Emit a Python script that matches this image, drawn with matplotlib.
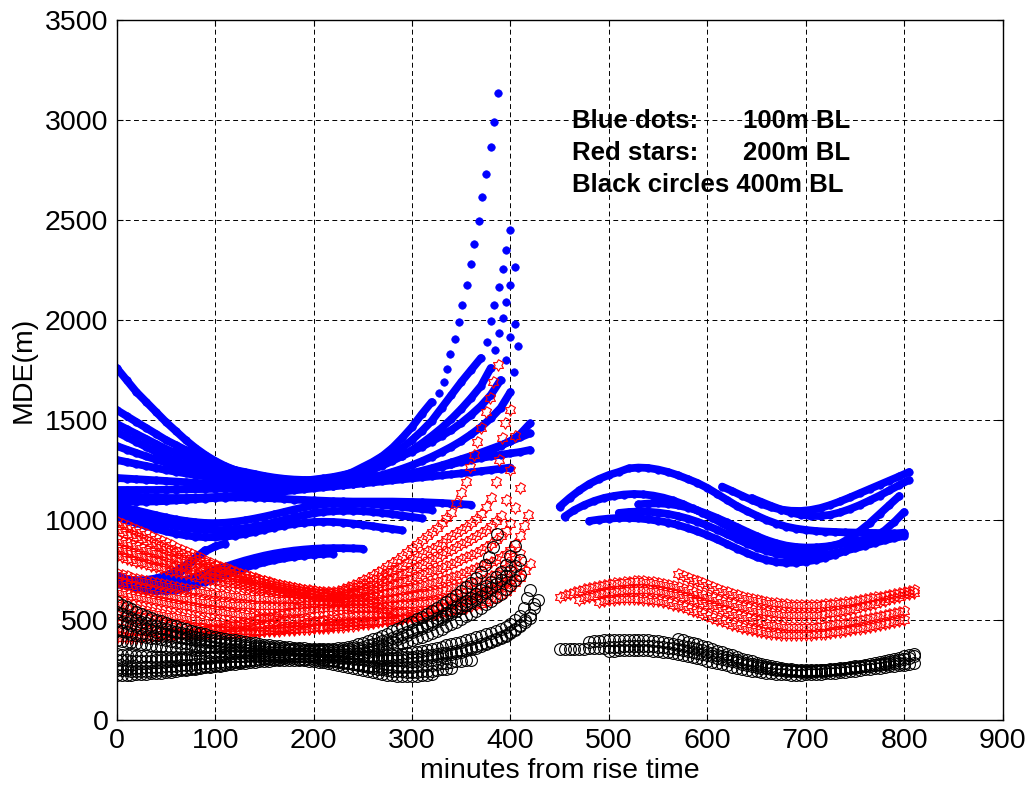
import numpy as np
import matplotlib.pyplot as plt
from matplotlib.path import Path

plt.rcParams['font.family'] = ['Liberation Sans', 'DejaVu Sans']

# Each track: (first minute, MDE samples, extra (minute, MDE) points near the end)
# blue tracks are sampled every 10 min, red and black ones every 5 min
blue_step = 10
red_step = 5
black_step = 5

# first pass, 100 m baseline
blue_pass1 = [
    (0, [1760, 1700, 1640, 1590, 1540, 1490, 1445, 1400, 1360, 1325, 1295, 1270, 1250, 1235, 1220, 1210, 1200,
         1195, 1190, 1190, 1190, 1195, 1205, 1220, 1240, 1265, 1290, 1320, 1360, 1410, 1465, 1530, 1590],
     [(327, 1633), (332, 1688), (336, 1755), (339, 1830), (344, 1905), (348, 1988), (351, 2075), (356, 2173),
      (360, 2278), (363, 2382), (368, 2493), (371, 2613), (375, 2732), (380, 2865), (383, 2992), (387, 3135)]),
    (0, [1550, 1520, 1490, 1460, 1430, 1400, 1375, 1350, 1325, 1300, 1280, 1265, 1250, 1240, 1230, 1220, 1212,
         1206, 1202, 1200, 1200, 1203, 1208, 1218, 1230, 1248, 1270, 1295, 1325, 1360, 1400, 1445, 1495, 1560,
         1625, 1690, 1750, 1810],
     [(376, 1890), (380, 1997), (383, 2075), (388, 2165), (392, 2255), (395, 2352), (400, 2448)]),
    (0, [1480, 1455, 1430, 1405, 1380, 1355, 1335, 1315, 1295, 1275, 1260, 1245, 1230, 1218, 1207, 1198, 1190,
         1185, 1182, 1182, 1185, 1190, 1198, 1208, 1220, 1235, 1252, 1272, 1295, 1320, 1350, 1383, 1420, 1460,
         1505, 1555, 1610, 1670, 1760],
     [(384, 1850), (388, 1937), (392, 2010), (395, 2092), (400, 2173), (405, 2263)]),
    (0, [1440, 1415, 1390, 1365, 1340, 1318, 1297, 1278, 1260, 1245, 1232, 1220, 1210, 1202, 1196, 1192, 1190,
         1190, 1192, 1196, 1202, 1208, 1215, 1225, 1237, 1250, 1265, 1282, 1300, 1320, 1342, 1366, 1392, 1420,
         1450, 1485, 1525, 1570, 1625, 1700],
     [(395, 1800), (400, 1913), (405, 1980)]),
    (0, [1370, 1352, 1335, 1318, 1302, 1287, 1273, 1260, 1248, 1237, 1227, 1218, 1210, 1203, 1197, 1192, 1188,
         1185, 1183, 1182, 1182, 1183, 1186, 1190, 1196, 1204, 1214, 1226, 1240, 1256, 1274, 1294, 1316, 1340,
         1366, 1395, 1428, 1465, 1508, 1560, 1640],
     [(404, 1740), (408, 1868)]),
    (0, [1300, 1290, 1280, 1270, 1260, 1250, 1241, 1233, 1225, 1218, 1212, 1206, 1200, 1195, 1190, 1186, 1183,
         1180, 1178, 1177, 1177, 1178, 1180, 1183, 1187, 1192, 1198, 1205, 1213, 1222, 1232, 1243, 1255, 1268,
         1282, 1297, 1313, 1330, 1348, 1370, 1395, 1430, 1483], []),
    (0, [1210, 1207, 1204, 1201, 1198, 1195, 1192, 1189, 1186, 1183, 1180, 1178, 1176, 1174, 1172, 1170, 1169,
         1168, 1168, 1168, 1169, 1171, 1174, 1178, 1183, 1189, 1196, 1204, 1213, 1223, 1234, 1246, 1259, 1273,
         1288, 1304, 1320, 1337, 1355, 1373, 1393, 1413, 1433], []),
    (0, [1150, 1150, 1150, 1150, 1150, 1151, 1152, 1153, 1154, 1155, 1156, 1157, 1158, 1159, 1160, 1161, 1162,
         1163, 1164, 1165, 1166, 1168, 1171, 1175, 1180, 1186, 1193, 1201, 1210, 1220, 1231, 1242, 1254, 1266,
         1278, 1290, 1300, 1310, 1318, 1326, 1333, 1340, 1350], []),
    (0, [1120, 1118, 1116, 1114, 1112, 1110, 1110, 1110, 1111, 1113, 1115, 1118, 1121, 1125, 1129, 1133, 1138,
         1143, 1148, 1153, 1158, 1163, 1168, 1173, 1178, 1183, 1188, 1193, 1198, 1203, 1208, 1213, 1218, 1223,
         1228, 1233, 1238, 1244, 1250, 1256, 1262], []),
    (0, [1095, 1093, 1092, 1092, 1093, 1095, 1098, 1101, 1104, 1107, 1110, 1112, 1113, 1113, 1112, 1110, 1108,
         1105, 1102, 1100, 1098, 1096, 1094, 1093, 1092, 1092, 1092, 1092, 1092, 1091, 1090, 1089, 1087, 1085,
         1082, 1079, 1076], []),
    (0, [1070, 1060, 1048, 1036, 1024, 1013, 1003, 995, 989, 985, 984, 986, 991, 998, 1007, 1017, 1028, 1040,
         1052, 1063, 1072, 1078, 1082, 1084, 1084, 1082, 1079, 1075, 1070, 1065, 1060, 1055, 1050], []),
    (0, [1040, 1028, 1015, 1002, 990, 979, 969, 961, 955, 951, 949, 950, 953, 959, 967, 977, 989, 1001, 1013,
         1024, 1033, 1040, 1044, 1046, 1046, 1044, 1040, 1035, 1029, 1022, 1015, 1008], []),
    (0, [1015, 1000, 985, 970, 956, 943, 932, 923, 917, 914, 914, 917, 922, 930, 940, 951, 962, 972, 980, 986,
         990, 991, 990, 987, 982, 976, 969, 962, 955, 948], []),
    (0, [720, 705, 693, 685, 682, 684, 691, 702, 716, 732, 749, 766, 782, 797, 810, 822, 832, 840, 847, 852,
         856, 858, 859, 859, 858, 856], []),
    (0, [690, 675, 662, 652, 646, 646, 652, 662, 676, 692, 710, 728, 745, 761, 775, 788, 799, 808, 816, 822,
         827, 830, 832], []),
    (0, [705, 700, 698, 700, 708, 722, 745, 775, 810, 843, 868, 882], []),
    (0, [680, 670, 664, 664, 672, 690, 718, 760, 810, 850], []),
]

# first pass, 200 m baseline
red_pass1 = [
    (0, [990, 980, 970, 960, 950, 939, 928, 917, 906, 895, 884, 873, 862, 851, 840, 829, 818, 808, 797, 787,
         777, 767, 758, 749, 740, 731, 723, 715, 708, 701, 694, 688, 682, 676, 671, 666, 661, 656, 652, 648,
         645, 642, 640, 639, 640, 647, 655, 665, 675, 687, 700, 712, 725, 738, 752, 768, 785, 802, 820, 839,
         858, 878, 898, 919, 940, 962, 985, 1010, 1035],
     [(345, 1083), (350, 1133), (355, 1192), (359, 1267), (363, 1325), (366, 1390), (370, 1460), (375, 1542),
      (379, 1608), (382, 1692), (387, 1775)]),
    (0, [950, 941, 932, 923, 913, 904, 894, 885, 875, 866, 856, 847, 838, 829, 820, 811, 802, 794, 785, 777,
         768, 760, 751, 743, 735, 728, 720, 713, 706, 700, 693, 687, 681, 676, 670, 665, 660, 656, 651, 647,
         643, 640, 636, 633, 630, 636, 645, 653, 662, 671, 680, 690, 700, 711, 722, 734, 746, 759, 772, 786,
         800, 814, 828, 843, 857, 872, 887, 903, 918, 934, 950, 967, 985, 1005, 1030, 1065, 1110],
     [(385, 1190), (388, 1300), (391, 1408), (394, 1483), (400, 1550)]),
    (0, [900, 892, 884, 876, 868, 860, 852, 844, 836, 828, 820, 812, 804, 796, 789, 781, 774, 766, 759, 752,
         745, 738, 731, 724, 718, 711, 705, 699, 693, 687, 681, 675, 670, 665, 660, 655, 650, 645, 641, 637,
         633, 629, 626, 623, 620, 623, 628, 634, 640, 647, 655, 663, 672, 681, 690, 700, 710, 720, 731, 742,
         753, 764, 776, 788, 800, 812, 825, 838, 851, 864, 878, 892, 906, 921, 936, 952, 970, 993, 1020],
     [(395, 1100), (400, 1250), (405, 1420)]),
    (0, [860, 852, 845, 837, 830, 822, 815, 807, 800, 793, 786, 779, 772, 765, 758, 751, 745, 738, 732, 726,
         720, 714, 708, 702, 697, 691, 686, 681, 676, 671, 667, 662, 658, 654, 650, 646, 642, 638, 635, 631,
         628, 625, 622, 619, 616, 617, 620, 624, 628, 633, 638, 644, 650, 656, 663, 670, 677, 684, 692, 700,
         708, 716, 725, 734, 743, 752, 762, 772, 782, 792, 803, 814, 825, 837, 850, 864, 880, 898, 920, 947,
         980],
     [(405, 1060), (410, 1160)]),
    (0, [820, 813, 806, 799, 792, 785, 779, 772, 766, 759, 753, 747, 741, 735, 729, 723, 718, 712, 707, 702,
         697, 692, 687, 682, 678, 673, 669, 665, 661, 657, 653, 649, 646, 642, 639, 635, 632, 629, 626, 623,
         620, 617, 614, 611, 608, 607, 608, 609, 611, 613, 616, 619, 622, 626, 630, 634, 639, 644, 649, 654,
         660, 666, 672, 678, 685, 692, 699, 706, 714, 722, 730, 739, 748, 758, 768, 779, 790, 802, 815, 830,
         850, 880, 920],
     [(414, 970), (418, 1025)]),
    (0, [730, 724, 718, 712, 706, 700, 695, 689, 684, 679, 674, 669, 665, 660, 656, 652, 648, 644, 641, 637,
         634, 631, 628, 625, 622, 619, 617, 614, 612, 610, 608, 606, 604, 602, 601, 599, 598, 597, 596, 595,
         594, 593, 593, 592, 592, 592, 592, 592, 593, 594, 595, 596, 598, 600, 602, 604, 607, 610, 613, 616,
         620, 624, 628, 632, 637, 642, 647, 652, 658, 664, 670, 677, 684, 692, 700, 710, 720, 732, 745, 760,
         780, 803, 830], []),
    (0, [690, 683, 676, 669, 662, 655, 649, 643, 637, 631, 626, 621, 616, 611, 607, 603, 599, 595, 592, 589,
         586, 583, 581, 579, 577, 575, 574, 573, 572, 571, 571, 571, 571, 571, 572, 573, 574, 575, 577, 578,
         580, 581, 582, 582, 583, 583, 583, 582, 582, 581, 580, 579, 578, 577, 577, 577, 577, 577, 578, 579,
         580, 582, 584, 586, 589, 592, 596, 600, 604, 609, 614, 620, 626, 633, 640, 648, 657, 668, 680, 696,
         715, 736, 760], []),
    (0, [640, 634, 628, 622, 617, 611, 606, 601, 596, 591, 586, 581, 577, 572, 568, 564, 560, 556, 552, 548,
         545, 541, 538, 534, 531, 528, 525, 522, 519, 516, 514, 511, 509, 507, 505, 503, 501, 499, 498, 496,
         495, 494, 493, 492, 491, 490, 490, 490, 490, 490, 491, 492, 493, 494, 496, 498, 500, 502, 505, 508,
         511, 514, 518, 522, 526, 530, 535, 540, 545, 550, 556, 562, 568, 575, 582, 590, 600, 612, 625, 641,
         660, 683, 710, 743, 780], []),
    (0, [580, 574, 568, 562, 557, 551, 546, 541, 536, 531, 527, 522, 518, 514, 510, 506, 502, 498, 495, 491,
         488, 485, 482, 479, 476, 473, 471, 469, 467, 465, 463, 461, 460, 459, 458, 457, 457, 457, 457, 457,
         458, 459, 460, 461, 463, 465, 467, 469, 472, 475, 478, 481, 485, 489, 493, 497, 502, 507, 512, 517,
         523, 529, 535, 541, 548, 555, 562, 569, 577, 585, 593, 601, 610, 619, 628, 638, 648, 659, 670, 684,
         700], []),
    (0, [520, 515, 510, 505, 500, 495, 491, 487, 483, 479, 476, 473, 470, 467, 465, 462, 460, 458, 456, 454,
         453, 451, 450, 449, 448, 447, 446, 445, 445, 445, 445, 445, 446, 447, 448, 449, 451, 453, 455, 457,
         460, 463, 466, 469, 473, 476, 480, 483, 487, 490, 493], []),
    (0, [460, 456, 452, 448, 445, 442, 439, 436, 434, 432, 430, 428, 427, 426, 425, 424, 424, 424, 424, 424,
         425, 426, 427, 428, 430, 432, 434, 436, 439, 442, 445, 448, 452, 456, 460, 464, 469, 474, 479, 484,
         489, 494, 499, 504, 508, 512, 516, 519, 522, 524, 526, 527, 528, 528, 528, 527, 526], []),
    (0, [410, 410, 410, 410, 411, 412, 413, 414, 416, 418, 420, 422, 425, 428, 431, 434, 438, 442, 446, 450,
         455, 460, 465, 470, 476, 481, 487, 492, 498, 503, 509, 514, 520, 525, 530, 534, 539, 543, 547, 551,
         554, 557, 559, 561, 562, 563, 563, 563, 562, 561, 560, 558, 556, 554, 551, 548, 545, 542, 540, 538,
         536], []),
]

# first pass, 400 m baseline
black_pass1 = [
    (0, [590, 577, 565, 553, 542, 531, 521, 511, 502, 493, 484, 476, 468, 460, 453, 446, 440, 434, 428, 422,
         417, 412, 407, 402, 398, 394, 390, 386, 383, 380, 377, 374, 371, 368, 366, 364, 362, 360, 358, 356,
         355, 354, 354, 355, 356, 359, 362, 367, 372, 379, 386, 394, 403, 412, 422, 432, 443, 454, 466, 478,
         490, 503, 516, 530, 544, 559, 574, 590, 607, 625, 643, 663, 685, 710, 740],
     [(374, 775), (378, 815), (382, 865), (386, 930)]),
    (0, [540, 530, 520, 510, 501, 492, 484, 476, 468, 460, 453, 446, 440, 434, 428, 422, 417, 412, 407, 402,
         398, 394, 390, 386, 383, 380, 377, 374, 371, 368, 366, 364, 362, 360, 358, 356, 355, 353, 352, 351,
         350, 349, 349, 349, 349, 350, 352, 355, 358, 362, 367, 373, 379, 386, 393, 401, 410, 419, 429, 439,
         450, 461, 472, 484, 496, 509, 522, 536, 550, 565, 580, 596, 612, 630, 648, 668, 690, 714, 740],
     [(395, 775), (400, 820), (405, 870)]),
    (0, [500, 492, 484, 476, 469, 462, 455, 448, 442, 436, 430, 424, 419, 414, 409, 404, 400, 396, 392, 388,
         385, 381, 378, 375, 372, 369, 367, 364, 362, 360, 358, 356, 354, 352, 351, 349, 348, 347, 346, 345,
         344, 343, 343, 342, 342, 342, 343, 344, 346, 349, 352, 357, 362, 368, 375, 383, 392, 403, 414, 426,
         438, 449, 460, 471, 482, 494, 506, 519, 532, 546, 560, 575, 590, 606, 622, 640, 658, 678, 698, 720,
         745, 772, 800], []),
    (0, [450, 444, 438, 432, 427, 422, 417, 412, 408, 403, 399, 395, 391, 387, 384, 380, 377, 374, 371, 368,
         365, 362, 360, 357, 355, 353, 351, 349, 347, 345, 344, 342, 341, 339, 338, 337, 336, 335, 334, 333,
         333, 332, 332, 331, 331, 331, 331, 332, 333, 335, 337, 340, 344, 349, 354, 360, 367, 375, 383, 391,
         400, 408, 417, 426, 436, 446, 457, 468, 480, 492, 505, 518, 532, 547, 562, 578, 595, 613, 632, 653,
         675, 700, 725], []),
    (0, [400, 396, 392, 388, 385, 381, 378, 375, 372, 369, 366, 363, 361, 358, 356, 354, 352, 350, 348, 346,
         345, 343, 342, 340, 339, 338, 337, 336, 335, 334, 333, 332, 331, 330, 330, 329, 329, 328, 328, 327,
         327, 326, 326, 325, 324, 322, 321, 319, 318, 316, 315, 314, 313, 312, 312, 312, 312, 312, 313, 314,
         316, 318, 320, 323, 326, 329, 333, 337, 342, 347, 352, 358, 364, 371, 378, 386, 395, 405, 415, 427,
         440, 456, 475, 498, 525],
     [(424, 580)]),
    (0, [300, 299, 298, 297, 297, 297, 297, 297, 298, 299, 300, 301, 302, 303, 305, 306, 308, 309, 311, 312,
         314, 315, 317, 318, 320, 321, 322, 323, 324, 324, 325, 325, 325, 325, 324, 323, 322, 320, 318, 316,
         313, 310, 306, 302, 298, 294, 290, 286, 282, 278, 275, 272, 270, 268, 266, 265, 264, 264, 264, 265,
         266, 268, 270, 273, 276, 279, 283, 286, 290, 293, 296, 298, 300], []),
    (0, [260, 260, 260, 260, 261, 262, 263, 264, 265, 266, 268, 269, 271, 273, 275, 277, 279, 281, 283, 285,
         287, 289, 291, 293, 295, 297, 299, 300, 302, 303, 305, 306, 307, 307, 308, 308, 308, 307, 307, 305,
         304, 302, 300, 297, 294, 290, 287, 283, 279, 274, 270, 265, 261, 257, 253, 250, 247, 245, 243, 242,
         242, 242, 243, 245, 247, 250, 253, 257, 261], []),
    (0, [225, 225, 226, 227, 228, 229, 231, 233, 235, 237, 240, 242, 245, 248, 251, 254, 257, 260, 263, 266,
         269, 272, 275, 278, 281, 283, 286, 288, 291, 293, 295, 296, 298, 299, 300, 300, 300, 299, 298, 296,
         294, 291, 288, 284, 280, 275, 270, 264, 259, 253, 248, 243, 238, 234, 230, 227, 224, 222, 221, 221,
         221, 222, 224, 226, 229], []),
    (0, [250, 249, 248, 247, 247, 247, 247, 247, 248, 249, 250, 251, 253, 255, 257, 259, 262, 265, 268, 271,
         274, 277, 281, 284, 288, 291, 295, 298, 302, 305, 308, 310, 313, 315, 317, 318, 320, 321, 322, 322,
         323, 323, 323, 322, 322, 321, 321, 320, 320, 320, 320, 320, 321, 322, 323, 325, 327, 329, 332, 335,
         338, 342, 346, 351, 356, 361, 367, 373, 379, 385, 392, 399, 406, 413, 421, 429, 437, 446, 456, 467,
         480, 498, 520],
     [(414, 560), (417, 610), (420, 650)]),
    (0, [330, 327, 325, 323, 321, 319, 318, 317, 316, 315, 315, 315, 315, 315, 315, 315, 316, 316, 317, 317,
         318, 318, 319, 319, 320, 320, 321, 321, 322, 322, 322, 322, 322, 322, 322, 322, 321, 321, 320, 319,
         318, 317, 316, 314, 313, 311, 310, 308, 307, 305, 304, 303, 302, 301, 301, 301, 301, 301, 302, 303,
         305, 307, 309, 312, 315, 318, 322, 326, 331, 336, 342, 348, 355, 362, 370, 379, 388, 399, 410, 422,
         436, 451, 468, 488, 510],
     [(424, 560), (428, 600)]),
]

# second pass
blue_pass2 = [
    (450, [1067, 1110, 1148, 1180, 1205, 1225, 1240, 1258, 1262, 1260, 1252, 1240, 1224, 1205, 1185, 1160,
           1130, 1100, 1070, 1045, 1022, 1000, 982, 967, 957, 950, 945, 942, 940, 938, 937, 936, 935, 934,
           933, 932], []),
    (455, [1017, 1050, 1075, 1095, 1110, 1120, 1127, 1130, 1128, 1122, 1112, 1098, 1080, 1058, 1035, 1010,
           983, 955, 928, 903, 880, 862, 850, 845, 845, 850, 858, 868, 882, 910, 945, 985, 1030, 1075, 1120], []),
    (480, [995, 1002, 1007, 1010, 1010, 1008, 1003, 996, 987, 975, 960, 943, 924, 903, 880, 857, 835, 815, 800,
           790, 786, 787, 792, 800, 812, 827, 845, 866, 890, 917, 947, 990, 1040], []),
    (510, [1035, 1040, 1042, 1041, 1037, 1030, 1020, 1007, 991, 972, 951, 928, 905, 882, 862, 845, 832, 823,
           818, 817, 820, 826, 835, 846, 858, 871, 885, 898, 910, 920], []),
    (530, [1078, 1082, 1083, 1080, 1073, 1062, 1048, 1030, 1010, 988, 965, 942, 920, 900, 884, 872, 865, 862,
           863, 867, 874, 883, 893, 903, 913, 922, 930, 937], []),
    (615, [1167, 1145, 1122, 1100, 1080, 1063, 1052, 1046, 1045, 1050, 1060, 1075, 1093, 1113, 1134, 1155,
           1176, 1197, 1218, 1240], []),
    (645, [1110, 1090, 1070, 1052, 1037, 1026, 1020, 1020, 1026, 1038, 1055, 1075, 1098, 1122, 1148, 1175,
           1200], []),
]

red_pass2 = [
    (450, [617, 625, 632, 640, 647, 654, 660, 666, 671, 676, 680, 684, 687, 690, 692, 693, 694, 693, 692, 689,
           686, 681, 676, 670, 663, 656, 648, 640, 632, 624, 616, 608, 600, 592, 585, 578, 571, 564, 558, 552,
           547, 542, 538, 534, 531, 528, 526, 524, 523, 523, 523, 524, 525, 527, 530, 533, 537, 541, 546, 551,
           557, 563, 569, 575, 582, 589, 596, 603, 610, 617, 624, 630, 637], []),
    (470, [600, 608, 615, 622, 628, 633, 638, 642, 645, 647, 649, 650, 650, 649, 648, 646, 643, 639, 635, 630,
           624, 617, 610, 602, 594, 586, 577, 568, 559, 550, 541, 532, 524, 516, 508, 501, 494, 488, 482, 477,
           473, 470, 467, 465, 464, 464, 464, 465, 467, 469, 472, 475, 479, 483, 487, 491, 496, 501, 506, 511,
           516, 521, 526, 531, 536, 541, 546], []),
    (570, [730, 721, 712, 702, 693, 683, 674, 665, 656, 647, 639, 631, 624, 617, 611, 605, 600, 595, 591, 587,
           584, 581, 579, 577, 576, 575, 575, 575, 576, 577, 579, 581, 583, 586, 589, 592, 596, 600, 604, 608,
           613, 617, 622, 627, 632, 637, 642, 647, 652], []),
    (490, [590, 594, 598, 601, 603, 604, 605, 605, 604, 602, 600, 597, 593, 588, 583, 577, 570, 563, 555, 547,
           538, 529, 520, 511, 502, 493, 485, 477, 469, 462, 455, 449, 443, 438, 434, 431, 428, 426, 425, 424,
           424, 424, 425, 426, 428, 430, 432, 435, 438, 441, 445, 449, 453, 457, 462, 467, 472, 477, 482, 487,
           492, 497, 502], []),
]

black_pass2 = [
    (450, [355, 355, 355, 355, 356, 357, 358, 359, 361, 362, 364, 365, 367, 368, 369, 370, 370, 370, 369, 368,
           366, 364, 361, 358, 354, 350, 345, 340, 335, 330, 324, 318, 312, 306, 300, 294, 288, 282, 277, 272,
           267, 262, 258, 254, 251, 248, 246, 244, 243, 242, 242, 242, 243, 244, 246, 248, 250, 252, 255, 258,
           261, 264, 268, 272, 276, 280, 285, 290, 295, 300, 306, 312, 318], []),
    (480, [392, 394, 396, 398, 399, 400, 401, 402, 402, 402, 401, 400, 398, 396, 393, 390, 386, 382, 377, 372,
           366, 360, 354, 348, 341, 334, 327, 320, 313, 306, 299, 292, 286, 280, 274, 269, 264, 260, 256, 253,
           250, 248, 247, 246, 246, 246, 247, 248, 250, 252, 255, 258, 261, 264, 268, 272, 276, 280, 285, 290,
           295, 300, 306, 312, 318, 324, 330], []),
    (570, [405, 399, 392, 385, 378, 371, 363, 355, 347, 339, 331, 323, 315, 307, 300, 293, 286, 280, 274, 269,
           264, 260, 257, 254, 252, 251, 250, 250, 250, 251, 252, 253, 255, 257, 260, 262, 265, 267, 270, 272,
           275, 277, 280, 282, 283, 284, 285], []),
    (500, [345, 347, 348, 349, 350, 350, 350, 349, 348, 346, 344, 341, 338, 334, 330, 325, 320, 315, 309, 303,
           297, 291, 285, 279, 273, 267, 262, 257, 252, 247, 243, 239, 236, 233, 231, 229, 228, 227, 227, 227,
           228, 229, 230, 231, 233, 235, 237, 239, 242, 244, 247, 250, 253, 256, 259, 262, 265, 268, 271, 274,
           277, 280, 283], []),
]

legend_rows = [('Blue dots:', '100m BL'), ('Red stars:', '200m BL')]
legend_last = 'Black circles 400m BL'

# six-pointed star outline (two overlapping triangles)
ang = np.deg2rad(90 + 30 * np.arange(12))
rad = np.where(np.arange(12) % 2 == 0, 1.0, 0.577)
hexagram = Path(np.column_stack([rad * np.cos(ang), rad * np.sin(ang)]), closed=True)


def draw_tracks(ax, tracks, step, joined=False, **style):
    for t0, values, tail in tracks:
        t = t0 + step * np.arange(len(values))
        if joined:
            ax.plot(t, values, '-', color=style['markeredgecolor'], lw=5.6,
                    solid_capstyle='round', zorder=2)
        ax.plot(t, values, linestyle='none', zorder=2, **style)
        if tail:
            tt, tv = zip(*tail)
            ax.plot(tt, tv, linestyle='none', zorder=2, **style)


fig = plt.figure(figsize=(10.31, 7.86), dpi=100)
ax = fig.add_axes([0.1132, 0.0840, 0.8593, 0.8906])

blue_style = dict(marker='o', ms=5.4, markerfacecolor='#0000ff', markeredgecolor='#0000ff', mew=0.5)
red_style = dict(marker=hexagram, ms=8.3, markerfacecolor='none', markeredgecolor='#ff0000', mew=0.8)
black_style = dict(marker='o', ms=8.5, markerfacecolor='none', markeredgecolor='#000000', mew=0.8)

for tracks in (blue_pass1, blue_pass2):
    draw_tracks(ax, tracks, blue_step, joined=True, **blue_style)
for tracks in (red_pass1, red_pass2):
    draw_tracks(ax, tracks, red_step, **red_style)
for tracks in (black_pass1, black_pass2):
    draw_tracks(ax, tracks, black_step, **black_style)

ax.set_xlim(0, 900)
ax.set_ylim(0, 3500)
ax.set_xticks(np.arange(0, 901, 100))
ax.set_yticks(np.arange(0, 3501, 500))
ax.set_axisbelow(True)
ax.grid(True, color='k', lw=0.7, linestyle=(0, (5, 3.5)))
ax.tick_params(direction='in', length=4.5, width=0.8, top=True, right=True,
               labelsize=20.5, pad=6)
for sp in ax.spines.values():
    sp.set_linewidth(1.0)

ax.set_xlabel('minutes from rise time', fontsize=20.5, labelpad=3)
ax.set_ylabel('MDE(m)', fontsize=20.5, labelpad=6)

# legend written as text on the axes
for i, (name, bl) in enumerate(legend_rows):
    y = 2960 - 160 * i
    ax.text(462.5, y, name, fontsize=18.5, fontweight='bold', va='baseline')
    ax.text(636, y, bl, fontsize=18.5, fontweight='bold', va='baseline')
ax.text(462.5, 2640, legend_last, fontsize=18.5, fontweight='bold', va='baseline')

fig.savefig('out.png', dpi=100)
